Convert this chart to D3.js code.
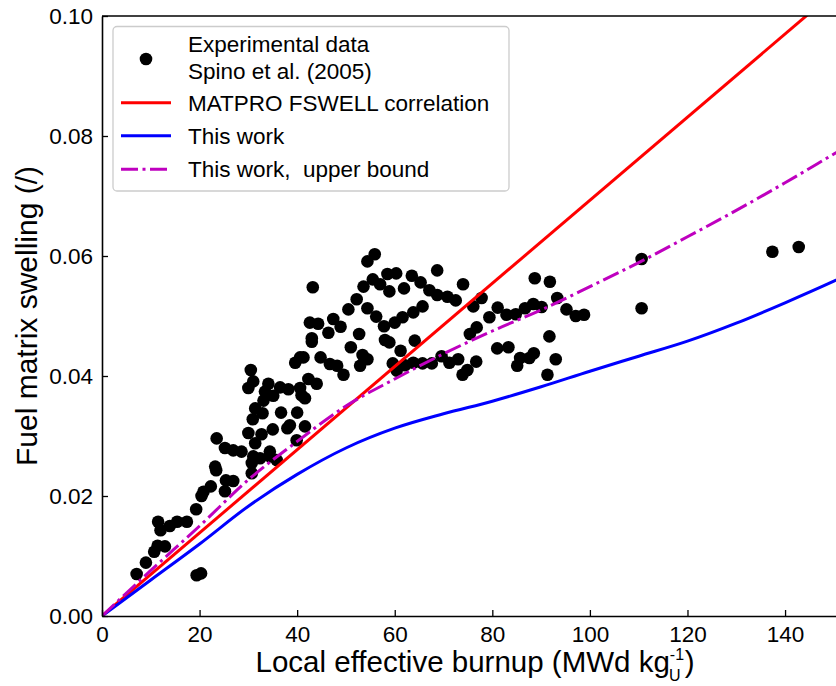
<!DOCTYPE html>
<html>
<head>
<meta charset="utf-8">
<script src="https://cdn.jsdelivr.net/npm/d3@7"></script>
<style>
  body { margin: 0; background: #fff; }
  svg text { font-family: "Liberation Sans", Arial, Helvetica, sans-serif; }
</style>
</head>
<body>
<div id="chart"></div>
<script>
// Experimental data, Spino et al. (2005): burnup (MWd/kgU) and swelling (/)
const expBurnup = [
  7.1, 9.0, 10.7, 11.4, 12.9, 11.5, 12.0, 13.9, 15.4, 17.4, 19.3, 20.4, 20.8, 22.3,
  19.4, 20.3, 25.2, 25.4, 26.9, 23.2, 23.4, 23.5, 25.2, 26.9, 28.6, 30.0, 30.7, 30.7,
  43.2, 42.6, 44.3, 47.4, 46.4, 43.0, 43.0, 40.6, 39.6, 41.3, 44.8, 46.7, 48.2,
  30.5, 31.0, 30.0, 34.1, 33.4, 36.5, 38.2, 35.1, 33.1, 40.6, 42.3, 44.0, 41.6,
  31.4, 32.9, 30.9, 36.7, 40.0, 38.5, 38.0, 41.6, 35.0, 31.4, 32.7, 39.9,
  31.0, 32.4, 34.4, 34.4, 35.8, 40.9,
  55.9, 54.4, 58.5, 60.3, 55.5, 57.0, 53.6, 63.5, 65.3, 68.7, 58.9, 61.9, 67.1, 68.7,
  70.8, 72.5, 74.0, 52.2, 50.5, 54.4, 56.2, 57.8, 60.0, 61.6, 63.8, 65.7, 48.9, 52.7,
  58.0, 58.9, 64.1, 51.0, 61.2, 53.4, 54.4, 52.9, 59.6, 60.4, 62.1, 63.8, 65.7, 67.6,
  69.6, 71.2, 73.0, 49.5, 73.9, 74.9, 76.1, 75.4, 76.8, 76.7, 77.8,
  88.7, 91.8, 81.1, 82.9, 84.8, 86.7, 88.4, 90.1, 93.3, 95.2, 97.1, 98.8, 79.4, 91.7,
  81.0, 83.3, 85.7, 87.6, 88.5, 85.1, 93.0, 91.3,
  110.6, 110.6, 137.4, 142.8
];
const expSwelling = [
  0.0070, 0.0089, 0.0107, 0.0117, 0.0116, 0.0157, 0.0143, 0.0150, 0.0157, 0.0157, 0.0178, 0.0200, 0.0207, 0.0216,
  0.0068, 0.0071, 0.0208, 0.0226, 0.0225, 0.0249, 0.0243, 0.0296, 0.0280, 0.0276, 0.0274, 0.0305, 0.0255, 0.0238,
  0.0548, 0.0489, 0.0487, 0.0495, 0.0472, 0.0463, 0.0457, 0.0431, 0.0422, 0.0431, 0.0431, 0.0420, 0.0417,
  0.0410, 0.0391, 0.0380, 0.0387, 0.0374, 0.0381, 0.0378, 0.0367, 0.0359, 0.0380, 0.0395, 0.0387, 0.0363,
  0.0346, 0.0338, 0.0328, 0.0339, 0.0339, 0.0318, 0.0313, 0.0316, 0.0311, 0.0288, 0.0303, 0.0293,
  0.0266, 0.0263, 0.0274, 0.0266, 0.0260, 0.0368,
  0.0603, 0.0591, 0.0570, 0.0571, 0.0561, 0.0553, 0.0549, 0.0567, 0.0556, 0.0576, 0.0541, 0.0546, 0.0543, 0.0535,
  0.0532, 0.0526, 0.0553, 0.0528, 0.0511, 0.0513, 0.0499, 0.0483, 0.0489, 0.0498, 0.0506, 0.0516, 0.0482, 0.0470,
  0.0460, 0.0456, 0.0459, 0.0448, 0.0442, 0.0435, 0.0428, 0.0417, 0.0421, 0.0409, 0.0418, 0.0422, 0.0421, 0.0421,
  0.0433, 0.0422, 0.0428, 0.0402, 0.0402, 0.0410, 0.0516, 0.0470, 0.0481, 0.0424, 0.0530,
  0.0563, 0.0557, 0.0514, 0.0502, 0.0503, 0.0513, 0.0520, 0.0515, 0.0530, 0.0511, 0.0500, 0.0502, 0.0498, 0.0466,
  0.0446, 0.0448, 0.0430, 0.0430, 0.0438, 0.0417, 0.0428, 0.0402,
  0.0595, 0.0513, 0.0607, 0.0615
];

// MATPRO FSWELL correlation (straight line)
const matproBurnup = [0, 155];
const matproSwelling = [0, 0.1074];

// This work
const modelBurnup = [0, 10, 20, 30, 40, 50, 60, 70, 80, 90, 100, 110, 120, 130, 140, 150, 155];
const modelSwelling = [0, 0.0060, 0.0120, 0.0183, 0.0236, 0.0280, 0.0313, 0.0337, 0.0358, 0.0382, 0.0408, 0.0433, 0.0458, 0.0488, 0.0522, 0.0558, 0.0577];

// This work, upper bound
const upperBurnup = [0, 10, 20, 30, 40, 50, 60, 70, 80, 90, 100, 110, 120, 130, 140, 150, 155];
const upperSwelling = [0, 0.0076, 0.0150, 0.0227, 0.0291, 0.0350, 0.0395, 0.0437, 0.0475, 0.0510, 0.0549, 0.0589, 0.0632, 0.0676, 0.0722, 0.0770, 0.0794];

const xTicks = [0, 20, 40, 60, 80, 100, 120, 140];
const yTicks = [0, 0.02, 0.04, 0.06, 0.08, 0.10];

const legendLabels = [
  ["Experimental data", "Spino et al. (2005)"],
  ["MATPRO FSWELL correlation"],
  ["This work"],
  ["This work,  upper bound"]
];

// Figure size and plot box.
const width = 836, height = 686;
const margin = {left: 102, top: 16, bottom: 70};
const plotRight = 848;

const svg = d3.select("#chart").append("svg")
  .attr("width", width)
  .attr("height", height);

const x = d3.scaleLinear().domain([0, 152.9]).range([margin.left, plotRight]);
const y = d3.scaleLinear().domain([0, 0.1]).range([height - margin.bottom, margin.top]);

svg.append("clipPath").attr("id", "plotclip")
  .append("rect")
    .attr("x", margin.left)
    .attr("y", margin.top)
    .attr("width", plotRight - margin.left)
    .attr("height", y(0) - margin.top);

const plot = svg.append("g").attr("clip-path", "url(#plotclip)");

// Scatter points.
plot.selectAll("circle.exp")
  .data(expBurnup.map((b, i) => [b, expSwelling[i]]))
  .enter()
  .append("circle")
    .attr("class", "exp")
    .attr("cx", d => x(d[0]))
    .attr("cy", d => y(d[1]))
    .attr("r", 6.3)
    .attr("fill", "#000");

const line = d3.line().x(d => x(d[0])).y(d => y(d[1]));
const lineCurve = d3.line().x(d => x(d[0])).y(d => y(d[1])).curve(d3.curveMonotoneX);

// Model lines.
plot.append("path")
  .datum(matproBurnup.map((b, i) => [b, matproSwelling[i]]))
  .attr("d", line)
  .attr("fill", "none")
  .attr("stroke", "#ff0000")
  .attr("stroke-width", 3);

plot.append("path")
  .datum(modelBurnup.map((b, i) => [b, modelSwelling[i]]))
  .attr("d", lineCurve)
  .attr("fill", "none")
  .attr("stroke", "#0000ff")
  .attr("stroke-width", 3);

plot.append("path")
  .datum(upperBurnup.map((b, i) => [b, upperSwelling[i]]))
  .attr("d", lineCurve)
  .attr("fill", "none")
  .attr("stroke", "#bf00bf")
  .attr("stroke-width", 3)
  .attr("stroke-dasharray", "17,4.5,3,4.5");

// Axes with inward ticks.
const xAxis = svg.append("g")
  .attr("transform", "translate(0," + y(0) + ")")
  .call(d3.axisBottom(x).tickValues(xTicks).tickFormat(d3.format("d"))
    .tickSizeInner(-6).tickSizeOuter(0).tickPadding(10));

const yAxis = svg.append("g")
  .attr("transform", "translate(" + margin.left + ",0)")
  .call(d3.axisLeft(y).tickValues(yTicks).tickFormat(d3.format(".2f"))
    .tickSizeInner(-6).tickSizeOuter(0).tickPadding(9));

[xAxis, yAxis].forEach(g => {
  g.selectAll("text")
    .attr("font-size", 22.5)
    .attr("fill", "#000")
    .style("font-family", "'Liberation Sans', Arial, sans-serif");
  g.selectAll("line").attr("stroke", "#000").attr("stroke-width", 1.3);
  g.select(".domain").attr("stroke", "#000").attr("stroke-width", 1.6);
});

// Top spine.
svg.append("line")
  .attr("x1", margin.left).attr("x2", plotRight)
  .attr("y1", margin.top).attr("y2", margin.top)
  .attr("stroke", "#000").attr("stroke-width", 1.6);

// Axis titles.
const xLabel = svg.append("text")
  .attr("x", 475)
  .attr("y", 672)
  .attr("text-anchor", "middle")
  .attr("font-size", 29.5)
  .attr("fill", "#000");
xLabel.append("tspan").text("Local effective burnup (MWd kg");
xLabel.append("tspan").attr("font-size", 16).attr("dy", -12).text("-1");
xLabel.append("tspan").attr("font-size", 16).attr("dx", -15).attr("dy", 21).text("U");
xLabel.append("tspan").attr("dx", 4).attr("dy", -9).text(")");

svg.append("text")
  .attr("transform", "translate(37," + ((margin.top + y(0)) / 2) + ") rotate(-90)")
  .attr("text-anchor", "middle")
  .attr("font-size", 30)
  .attr("fill", "#000")
  .text("Fuel matrix swelling (/)");

// Legend.
const legend = svg.append("g");
legend.append("rect")
  .attr("x", 113).attr("y", 26.5)
  .attr("width", 396).attr("height", 164.5)
  .attr("rx", 4)
  .attr("fill", "#fff").attr("fill-opacity", 0.8)
  .attr("stroke", "#cccccc").attr("stroke-width", 1.3);

const legendRows = [
  {y: 59, kind: "dot"},
  {y: 102.7, kind: "line", color: "#ff0000"},
  {y: 135.7, kind: "line", color: "#0000ff"},
  {y: 169.3, kind: "line", color: "#bf00bf", dash: "17,4.5,3,4.5"}
];

legendRows.forEach((r, i) => {
  if (r.kind === "dot") {
    legend.append("circle").attr("cx", 146).attr("cy", r.y).attr("r", 6.3).attr("fill", "#000");
  } else {
    legend.append("line")
      .attr("x1", 121).attr("x2", 171)
      .attr("y1", r.y).attr("y2", r.y)
      .attr("stroke", r.color).attr("stroke-width", 3)
      .attr("stroke-dasharray", r.dash || null);
  }
  const lines = legendLabels[i];
  const t = legend.append("text")
    .attr("x", 188)
    .attr("font-size", 22.5)
    .attr("fill", "#000")
    .style("white-space", "pre");
  if (lines.length === 2) {
    t.attr("y", 52);
    t.append("tspan").attr("x", 188).text(lines[0]);
    t.append("tspan").attr("x", 188).attr("dy", 26.5).text(lines[1]);
  } else {
    t.attr("y", r.y + 8).text(lines[0]);
  }
});
</script>
</body>
</html>
